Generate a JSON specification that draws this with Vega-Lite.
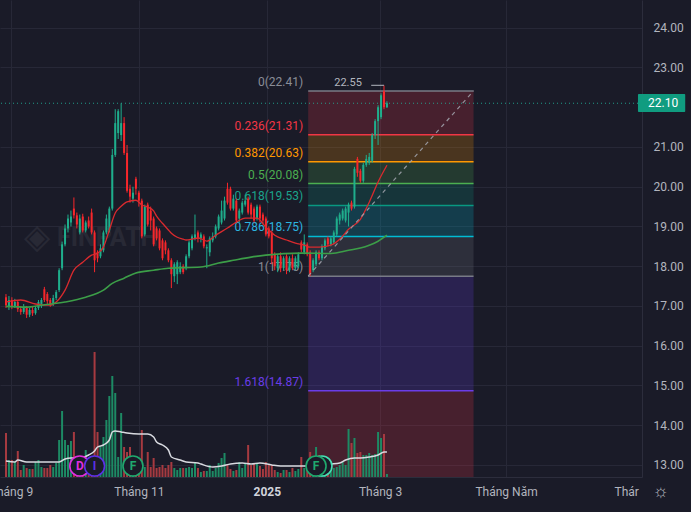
{
  "$schema": "https://vega.github.io/schema/vega-lite/v6.json",
  "description": "Candlestick chart with Fibonacci retracement, moving averages and volume",
  "width": 642,
  "height": 477,
  "autosize": {"type": "none"},
  "padding": {"left": 0, "top": 0, "right": 49, "bottom": 35},
  "background": "#1a1b28",
  "config": {
    "view": {"stroke": null},
    "font": "Roboto"
  },
  "datasets": {
    "candles": [
      {"i":0,"o":17.22,"h":17.30,"l":16.95,"c":17.02,"v":1760},
      {"i":1,"o":16.98,"h":17.25,"l":16.90,"c":17.15,"v":680},
      {"i":2,"o":17.15,"h":17.22,"l":16.92,"c":17.00,"v":680},
      {"i":3,"o":17.00,"h":17.18,"l":16.95,"c":17.10,"v":600},
      {"i":4,"o":17.10,"h":17.15,"l":16.85,"c":16.92,"v":1040},
      {"i":5,"o":16.92,"h":17.00,"l":16.78,"c":16.85,"v":280},
      {"i":6,"o":16.85,"h":17.05,"l":16.80,"c":16.98,"v":480},
      {"i":7,"o":16.98,"h":17.00,"l":16.70,"c":16.78,"v":360},
      {"i":8,"o":16.78,"h":16.95,"l":16.72,"c":16.90,"v":320},
      {"i":9,"o":16.90,"h":16.98,"l":16.75,"c":16.82,"v":320},
      {"i":10,"o":16.82,"h":17.00,"l":16.78,"c":16.95,"v":600},
      {"i":11,"o":16.95,"h":17.15,"l":16.90,"c":17.10,"v":680},
      {"i":12,"o":17.05,"h":17.20,"l":16.95,"c":17.15,"v":400},
      {"i":13,"o":17.42,"h":17.48,"l":17.10,"c":17.15,"v":360},
      {"i":14,"o":17.30,"h":17.35,"l":17.05,"c":17.12,"v":360},
      {"i":15,"o":17.15,"h":17.20,"l":16.98,"c":17.05,"v":480},
      {"i":16,"o":17.05,"h":17.28,"l":17.00,"c":17.20,"v":400},
      {"i":17,"o":17.20,"h":17.40,"l":17.15,"c":17.35,"v":560},
      {"i":18,"o":17.40,"h":17.95,"l":17.35,"c":17.90,"v":1480},
      {"i":19,"o":17.95,"h":18.62,"l":17.90,"c":18.55,"v":2640},
      {"i":20,"o":18.55,"h":19.05,"l":18.50,"c":18.95,"v":1480},
      {"i":21,"o":18.95,"h":19.30,"l":18.85,"c":19.20,"v":1280},
      {"i":22,"o":19.10,"h":19.40,"l":19.00,"c":19.25,"v":1440},
      {"i":23,"o":19.45,"h":19.73,"l":19.20,"c":19.28,"v":1800},
      {"i":24,"o":19.28,"h":19.35,"l":18.95,"c":19.05,"v":680},
      {"i":25,"o":18.85,"h":19.30,"l":18.80,"c":19.20,"v":800},
      {"i":26,"o":19.25,"h":19.32,"l":18.85,"c":18.90,"v":720},
      {"i":27,"o":18.90,"h":19.15,"l":18.85,"c":19.10,"v":1080},
      {"i":28,"o":19.15,"h":19.25,"l":18.95,"c":19.00,"v":600},
      {"i":29,"o":19.35,"h":19.45,"l":18.80,"c":18.85,"v":560},
      {"i":30,"o":18.85,"h":18.90,"l":17.85,"c":18.15,"v":5000},
      {"i":31,"o":18.35,"h":18.40,"l":18.10,"c":18.20,"v":1800},
      {"i":32,"o":18.25,"h":18.55,"l":18.20,"c":18.45,"v":1200},
      {"i":33,"o":18.40,"h":18.90,"l":18.35,"c":18.85,"v":1600},
      {"i":34,"o":18.85,"h":19.30,"l":18.80,"c":19.20,"v":2280},
      {"i":35,"o":18.90,"h":19.50,"l":18.85,"c":19.45,"v":3240},
      {"i":36,"o":19.45,"h":20.95,"l":19.40,"c":20.80,"v":4040},
      {"i":37,"o":20.80,"h":21.95,"l":20.75,"c":21.60,"v":3360},
      {"i":38,"o":21.35,"h":21.95,"l":21.20,"c":21.90,"v":800},
      {"i":39,"o":21.30,"h":22.10,"l":21.15,"c":21.60,"v":2560},
      {"i":40,"o":21.60,"h":21.75,"l":20.80,"c":20.85,"v":1200},
      {"i":41,"o":20.85,"h":21.05,"l":19.85,"c":19.90,"v":1000},
      {"i":42,"o":19.95,"h":20.05,"l":19.60,"c":19.75,"v":1200},
      {"i":43,"o":19.70,"h":20.00,"l":19.60,"c":19.85,"v":600},
      {"i":44,"o":20.20,"h":20.25,"l":19.80,"c":19.95,"v":480},
      {"i":45,"o":19.85,"h":19.90,"l":19.50,"c":19.65,"v":400},
      {"i":46,"o":19.65,"h":19.70,"l":18.70,"c":18.75,"v":1880},
      {"i":47,"o":18.80,"h":19.55,"l":18.75,"c":19.50,"v":400},
      {"i":48,"o":19.55,"h":19.60,"l":19.00,"c":19.05,"v":1000},
      {"i":49,"o":19.40,"h":19.50,"l":18.90,"c":19.15,"v":400},
      {"i":50,"o":19.20,"h":19.25,"l":18.50,"c":18.55,"v":760},
      {"i":51,"o":18.95,"h":19.00,"l":18.65,"c":18.70,"v":360},
      {"i":52,"o":18.90,"h":18.95,"l":18.40,"c":18.45,"v":400},
      {"i":53,"o":18.65,"h":18.70,"l":18.15,"c":18.20,"v":480},
      {"i":54,"o":18.60,"h":18.65,"l":18.30,"c":18.40,"v":360},
      {"i":55,"o":18.40,"h":18.45,"l":18.10,"c":18.15,"v":480},
      {"i":56,"o":18.15,"h":18.20,"l":17.45,"c":17.80,"v":600},
      {"i":57,"o":17.75,"h":18.10,"l":17.60,"c":18.05,"v":360},
      {"i":58,"o":17.80,"h":18.15,"l":17.55,"c":18.10,"v":280},
      {"i":59,"o":17.85,"h":18.10,"l":17.80,"c":18.00,"v":360},
      {"i":60,"o":18.00,"h":18.05,"l":17.80,"c":17.85,"v":360},
      {"i":61,"o":17.95,"h":18.30,"l":17.90,"c":18.25,"v":360},
      {"i":62,"o":18.25,"h":18.65,"l":18.20,"c":18.60,"v":400},
      {"i":63,"o":18.45,"h":18.80,"l":18.40,"c":18.75,"v":360},
      {"i":64,"o":18.70,"h":19.30,"l":18.65,"c":18.80,"v":600},
      {"i":65,"o":18.85,"h":18.90,"l":18.60,"c":18.70,"v":360},
      {"i":66,"o":18.70,"h":18.85,"l":18.60,"c":18.80,"v":200},
      {"i":67,"o":18.75,"h":18.80,"l":18.45,"c":18.50,"v":240},
      {"i":68,"o":18.45,"h":18.55,"l":17.95,"c":18.48,"v":240},
      {"i":69,"o":18.35,"h":18.75,"l":18.25,"c":18.70,"v":480},
      {"i":70,"o":18.65,"h":18.85,"l":18.60,"c":18.75,"v":240},
      {"i":71,"o":18.75,"h":19.05,"l":18.70,"c":19.00,"v":360},
      {"i":72,"o":18.95,"h":19.30,"l":18.90,"c":19.25,"v":560},
      {"i":73,"o":19.10,"h":19.65,"l":19.05,"c":19.40,"v":760},
      {"i":74,"o":19.20,"h":19.75,"l":19.15,"c":19.65,"v":960},
      {"i":75,"o":19.95,"h":20.10,"l":19.55,"c":19.60,"v":480},
      {"i":76,"o":19.95,"h":20.00,"l":19.40,"c":19.45,"v":320},
      {"i":77,"o":19.45,"h":19.80,"l":19.40,"c":19.70,"v":240},
      {"i":78,"o":19.65,"h":19.70,"l":19.10,"c":19.15,"v":280},
      {"i":79,"o":19.20,"h":19.45,"l":19.10,"c":19.40,"v":600},
      {"i":80,"o":19.35,"h":19.65,"l":19.30,"c":19.60,"v":360},
      {"i":81,"o":19.55,"h":19.80,"l":19.50,"c":19.65,"v":560},
      {"i":82,"o":19.70,"h":19.75,"l":19.30,"c":19.35,"v":1280},
      {"i":83,"o":19.55,"h":19.60,"l":19.20,"c":19.30,"v":480},
      {"i":84,"o":19.45,"h":19.50,"l":19.10,"c":19.15,"v":520},
      {"i":85,"o":19.20,"h":19.55,"l":19.15,"c":19.50,"v":520},
      {"i":86,"o":19.50,"h":19.55,"l":19.10,"c":19.20,"v":440},
      {"i":87,"o":19.30,"h":19.35,"l":19.05,"c":19.15,"v":320},
      {"i":88,"o":19.20,"h":19.25,"l":18.75,"c":18.80,"v":600},
      {"i":89,"o":18.95,"h":19.00,"l":18.70,"c":18.75,"v":480},
      {"i":90,"o":18.85,"h":18.90,"l":18.05,"c":18.20,"v":480},
      {"i":91,"o":18.30,"h":18.35,"l":17.90,"c":18.00,"v":280},
      {"i":92,"o":17.95,"h":18.30,"l":17.85,"c":18.25,"v":200},
      {"i":93,"o":18.25,"h":18.35,"l":17.85,"c":17.95,"v":160},
      {"i":94,"o":17.95,"h":18.25,"l":17.90,"c":18.20,"v":280},
      {"i":95,"o":18.25,"h":18.30,"l":17.80,"c":17.90,"v":280},
      {"i":96,"o":17.90,"h":18.25,"l":17.85,"c":18.20,"v":200},
      {"i":97,"o":18.20,"h":18.30,"l":17.90,"c":17.95,"v":360},
      {"i":98,"o":17.95,"h":18.25,"l":17.90,"c":18.20,"v":240},
      {"i":99,"o":18.00,"h":18.35,"l":17.95,"c":18.30,"v":320},
      {"i":100,"o":18.60,"h":18.65,"l":18.35,"c":18.42,"v":800},
      {"i":101,"o":18.35,"h":18.80,"l":18.30,"c":18.60,"v":360},
      {"i":102,"o":18.55,"h":18.60,"l":18.25,"c":18.30,"v":400},
      {"i":103,"o":18.35,"h":18.40,"l":17.75,"c":17.80,"v":1000},
      {"i":104,"o":17.90,"h":18.20,"l":17.85,"c":18.15,"v":600},
      {"i":105,"o":18.05,"h":18.40,"l":18.00,"c":18.35,"v":1200},
      {"i":106,"o":18.35,"h":18.40,"l":18.15,"c":18.20,"v":880},
      {"i":107,"o":18.20,"h":18.55,"l":18.15,"c":18.50,"v":720},
      {"i":108,"o":18.45,"h":18.70,"l":18.40,"c":18.65,"v":600},
      {"i":109,"o":18.70,"h":18.75,"l":18.50,"c":18.55,"v":400},
      {"i":110,"o":18.55,"h":18.75,"l":18.50,"c":18.70,"v":480},
      {"i":111,"o":18.60,"h":18.90,"l":18.55,"c":18.85,"v":360},
      {"i":112,"o":18.80,"h":19.25,"l":18.75,"c":19.20,"v":400},
      {"i":113,"o":19.15,"h":19.35,"l":19.05,"c":19.30,"v":480},
      {"i":114,"o":19.20,"h":19.45,"l":19.15,"c":19.40,"v":600},
      {"i":115,"o":19.15,"h":19.50,"l":19.10,"c":19.45,"v":480},
      {"i":116,"o":19.35,"h":19.60,"l":19.00,"c":19.55,"v":1920},
      {"i":117,"o":19.60,"h":19.65,"l":19.40,"c":19.45,"v":1360},
      {"i":118,"o":19.50,"h":20.50,"l":19.45,"c":20.45,"v":1560},
      {"i":119,"o":20.70,"h":20.75,"l":20.25,"c":20.35,"v":960},
      {"i":120,"o":20.40,"h":20.45,"l":20.10,"c":20.15,"v":1000},
      {"i":121,"o":20.15,"h":20.60,"l":20.10,"c":20.55,"v":880},
      {"i":122,"o":20.55,"h":20.80,"l":20.50,"c":20.70,"v":880},
      {"i":123,"o":20.60,"h":20.85,"l":20.55,"c":20.75,"v":960},
      {"i":124,"o":20.65,"h":21.35,"l":20.60,"c":21.30,"v":880},
      {"i":125,"o":21.30,"h":21.70,"l":21.20,"c":21.65,"v":920},
      {"i":126,"o":21.65,"h":22.05,"l":21.05,"c":22.00,"v":1800},
      {"i":127,"o":21.75,"h":22.35,"l":21.70,"c":22.30,"v":1560},
      {"i":128,"o":22.40,"h":22.55,"l":21.95,"c":22.00,"v":1720},
      {"i":129,"o":22.00,"h":22.15,"l":21.98,"c":22.10,"v":120}
    ],
    "ma_fast": [
      {"i":0,"v":17.10},{"i":5,"v":17.15},{"i":10,"v":17.05},{"i":15,"v":17.02},{"i":17,"v":17.10},
      {"i":20,"v":17.40},{"i":23,"v":17.90},{"i":26,"v":18.10},{"i":29,"v":18.28},{"i":31,"v":18.33},
      {"i":33,"v":18.48},{"i":35,"v":18.91},{"i":37,"v":19.34},{"i":39,"v":19.51},{"i":41,"v":19.62},
      {"i":44,"v":19.66},{"i":46,"v":19.54},{"i":48,"v":19.49},{"i":50,"v":19.39},{"i":51,"v":19.26},
      {"i":53,"v":19.08},{"i":55,"v":18.91},{"i":56,"v":18.83},{"i":58,"v":18.73},{"i":60,"v":18.68},
      {"i":61,"v":18.66},{"i":63,"v":18.68},{"i":65,"v":18.71},{"i":67,"v":18.66},{"i":68,"v":18.63},
      {"i":71,"v":18.78},{"i":75,"v":18.96},{"i":78,"v":19.11},{"i":81,"v":19.21},{"i":85,"v":19.21},
      {"i":88,"v":18.98},{"i":91,"v":18.78},{"i":95,"v":18.66},{"i":98,"v":18.58},{"i":101,"v":18.53},
      {"i":103,"v":18.48},{"i":106,"v":18.48},{"i":110,"v":18.53},{"i":113,"v":18.68},{"i":116,"v":18.93},
      {"i":120,"v":19.18},{"i":123,"v":19.61},{"i":126,"v":20.12},{"i":129,"v":20.54}
    ],
    "ma_slow": [
      {"i":0,"v":16.99},{"i":7,"v":16.97},{"i":12,"v":17.02},{"i":20,"v":17.10},{"i":27,"v":17.22},
      {"i":33,"v":17.40},{"i":36,"v":17.57},{"i":40,"v":17.70},{"i":44,"v":17.83},{"i":50,"v":17.90},
      {"i":55,"v":17.95},{"i":66,"v":17.98},{"i":72,"v":18.08},{"i":77,"v":18.15},{"i":83,"v":18.23},
      {"i":88,"v":18.28},{"i":100,"v":18.33},{"i":110,"v":18.32},{"i":116,"v":18.40},{"i":120,"v":18.46},
      {"i":123,"v":18.53},{"i":126,"v":18.63},{"i":129,"v":18.78}
    ],
    "vol_ma": [
      {"i":0,"v":640},{"i":3,"v":600},{"i":4,"v":680},{"i":7,"v":600},{"i":12,"v":600},{"i":18,"v":600},
      {"i":20,"v":720},{"i":22,"v":760},{"i":25,"v":760},{"i":28,"v":880},{"i":30,"v":1040},{"i":31,"v":1200},
      {"i":33,"v":1280},{"i":35,"v":1480},{"i":36,"v":1800},{"i":37,"v":1840},{"i":39,"v":1800},{"i":41,"v":1760},
      {"i":45,"v":1720},{"i":48,"v":1720},{"i":50,"v":1600},{"i":51,"v":1400},{"i":53,"v":1280},{"i":55,"v":1080},
      {"i":56,"v":800},{"i":59,"v":680},{"i":61,"v":600},{"i":65,"v":560},{"i":66,"v":520},{"i":70,"v":400},
      {"i":73,"v":440},{"i":76,"v":520},{"i":80,"v":560},{"i":83,"v":520},{"i":86,"v":560},{"i":90,"v":480},
      {"i":93,"v":440},{"i":100,"v":440},{"i":103,"v":440},{"i":110,"v":520},{"i":113,"v":560},{"i":115,"v":680},
      {"i":118,"v":760},{"i":120,"v":760},{"i":123,"v":800},{"i":126,"v":880},{"i":128,"v":1000},{"i":129,"v":1000}
    ],
    "fib": [
      {"r":"0","label":"0(22.41)","p":22.41},
      {"r":"0.236","label":"0.236(21.31)","p":21.31,"p0":22.41},
      {"r":"0.382","label":"0.382(20.63)","p":20.63,"p0":21.31},
      {"r":"0.5","label":"0.5(20.08)","p":20.08,"p0":20.63},
      {"r":"0.618","label":"0.618(19.53)","p":19.53,"p0":20.08},
      {"r":"0.786","label":"0.786(18.75)","p":18.75,"p0":19.53},
      {"r":"1","label":"1(17.75)","p":17.75,"p0":18.75},
      {"r":"1.618","label":"1.618(14.87)","p":14.87,"p0":17.75},
      {"r":"2.618","label":"","p":10.21,"p0":14.87}
    ],
    "events": [
      {"i":25,"ev":"D","kind":"D"},
      {"i":30,"ev":"I","kind":"I"},
      {"i":43,"ev":"F","kind":"F"},
      {"i":107,"ev":"F","kind":"F2"},
      {"i":105,"ev":"F","kind":"F"}
    ]
  },
  "resolve": {"scale": {"y": "independent", "color": "independent"}},
  "layer": [
    {
      "data": {"name": "candles"},
      "mark": {"type": "bar", "orient": "vertical", "size": 2},
      "encoding": {
        "x": {
          "field": "i",
          "type": "quantitative",
          "scale": {"domain": [-0.33, 213.67], "nice": false, "zero": false},
          "axis": {
            "title": null,
            "values": [1.7, 45, 88.33, 126.67, 169.33, 210],
            "labelExpr": "datum.value < 10 ? 'Tháng 9' : datum.value < 60 ? 'Tháng 11' : datum.value < 100 ? '2025' : datum.value < 150 ? 'Tháng 3' : datum.value < 190 ? 'Tháng Năm' : 'Thár'",
            "grid": true,
            "gridColor": "#272837",
            "gridOpacity": {"condition": {"test": "datum.value > 200", "value": 0}, "value": 1},
            "ticks": false,
            "domain": true,
            "domainColor": "#2c2d3c",
            "labelColor": {"condition": {"test": "datum.value > 80 && datum.value < 100", "value": "#d1d4dc"}, "value": "#b2b5be"},
            "labelFontWeight": {"condition": {"test": "datum.value > 80 && datum.value < 100", "value": "bold"}, "value": "normal"},
            "labelFontSize": 12,
            "labelPadding": 9,
            "labelFlush": false,
            "labelOverlap": false
          }
        },
        "y": {"field": "v", "type": "quantitative", "scale": {"domain": [0, 19080], "nice": false}, "axis": null},
        "opacity": {"value": 0}
      }
    },
    {
      "data": {"values": [{"t": "FINPATH"}]},
      "mark": {"type": "text", "fontSize": 25, "fontWeight": "bold", "color": "#ffffff", "opacity": 0.06, "align": "left", "baseline": "middle"},
      "encoding": {
        "x": {"datum": 17.3, "scale": {"domain": [-0.33, 213.67], "nice": false, "zero": false}, "axis": {"title": null}},
        "y": {"datum": 18.71, "scale": {"domain": [12.698, 24.697], "nice": false, "zero": false}, "axis": null},
        "text": {"field": "t"}
      }
    },
    {
      "data": {"values": [{"t": "◈"}]},
      "mark": {"type": "text", "fontSize": 34, "color": "#ffffff", "opacity": 0.06, "align": "center", "baseline": "middle"},
      "encoding": {
        "x": {"datum": 10.4, "scale": {"domain": [-0.33, 213.67], "nice": false, "zero": false}, "axis": {"title": null}},
        "y": {"datum": 18.71, "scale": {"domain": [12.698, 24.697], "nice": false, "zero": false}, "axis": null},
        "text": {"field": "t"}
      }
    },
    {
      "data": {"name": "fib"},
      "transform": [{"filter": "isValid(datum.p0)"}],
      "mark": {"type": "rect", "fillOpacity": 0.21, "clip": true},
      "encoding": {
        "x": {"datum": 102.33, "scale": {"domain": [-0.33, 213.67], "nice": false, "zero": false}, "axis": {"title": null}},
        "x2": {"datum": 158.33},
        "y": {"field": "p", "type": "quantitative", "scale": {"domain": [12.698, 24.697], "nice": false, "zero": false}, "axis": null},
        "y2": {"field": "p0"},
        "color": {
          "field": "r", "type": "nominal", "legend": null,
          "scale": {"domain": ["0","0.236","0.382","0.5","0.618","0.786","1","1.618","2.618"],
                    "range": ["#787b86","#f23645","#ff9800","#4caf50","#089981","#00bcd4","#787b86","#6a3de8","#f23645"]}
        }
      }
    },
    {
      "data": {"name": "fib"},
      "transform": [{"filter": "datum.r != '2.618'"}],
      "mark": {"type": "rule", "strokeWidth": 1.5},
      "encoding": {
        "x": {"datum": 102.33, "scale": {"domain": [-0.33, 213.67], "nice": false, "zero": false}, "axis": {"title": null}},
        "x2": {"datum": 158.33},
        "y": {"field": "p", "type": "quantitative", "scale": {"domain": [12.698, 24.697], "nice": false, "zero": false}, "axis": null},
        "color": {
          "field": "r", "type": "nominal", "legend": null,
          "scale": {"domain": ["0","0.236","0.382","0.5","0.618","0.786","1","1.618","2.618"],
                    "range": ["#787b86","#f23645","#ff9800","#4caf50","#089981","#00bcd4","#787b86","#6a3de8","#f23645"]}
        }
      }
    },
    {
      "data": {"name": "fib"},
      "transform": [{"filter": "datum.r != '2.618'"}],
      "mark": {"type": "text", "align": "right", "baseline": "alphabetic", "dx": -5, "dy": -5, "fontSize": 12},
      "encoding": {
        "x": {"datum": 102.33, "scale": {"domain": [-0.33, 213.67], "nice": false, "zero": false}, "axis": {"title": null}},
        "y": {"field": "p", "type": "quantitative", "scale": {"domain": [12.698, 24.697], "nice": false, "zero": false}, "axis": null},
        "text": {"field": "label"},
        "color": {
          "field": "r", "type": "nominal", "legend": null,
          "scale": {"domain": ["0","0.236","0.382","0.5","0.618","0.786","1","1.618","2.618"],
                    "range": ["#8a8d97","#f23645","#ff9800","#4caf50","#1aa38c","#2cb5e0","#8a8d97","#6a3de8","#f23645"]}
        }
      }
    },
    {
      "data": {"name": "candles"},
      "mark": {"type": "bar", "orient": "vertical", "size": 2},
      "encoding": {
        "x": {"field": "i", "type": "quantitative", "scale": {"domain": [-0.33, 213.67], "nice": false, "zero": false}, "axis": {"title": null}},
        "y": {"field": "v", "type": "quantitative", "scale": {"domain": [0, 19080], "nice": false}, "axis": null},
        "color": {"condition": {"test": "datum.c >= datum.o", "value": "#1d8a64"}, "value": "#a63a40"}
      }
    },
    {
      "data": {"name": "vol_ma"},
      "mark": {"type": "line", "color": "#d8dae0", "strokeWidth": 1.5, "interpolate": "monotone"},
      "encoding": {
        "x": {"field": "i", "type": "quantitative", "scale": {"domain": [-0.33, 213.67], "nice": false, "zero": false}, "axis": {"title": null}},
        "y": {"field": "v", "type": "quantitative", "scale": {"domain": [0, 19080], "nice": false}, "axis": null}
      }
    },
    {
      "data": {"name": "events"},
      "mark": {"type": "point", "shape": "circle", "filled": false, "fill": "#1a1b28", "fillOpacity": 1, "size": 400, "strokeWidth": 1.6, "opacity": 1},
      "encoding": {
        "x": {"field": "i", "type": "quantitative", "scale": {"domain": [-0.33, 213.67], "nice": false, "zero": false}, "axis": {"title": null}},
        "y": {"datum": 440, "scale": {"domain": [0, 19080], "nice": false}, "axis": null},
        "color": {
          "field": "kind", "type": "nominal", "legend": null,
          "scale": {"domain": ["D","I","F","F2"], "range": ["#e02ee0","#5a30e6","#1faa6e","#46e0b4"]}
        }
      }
    },
    {
      "data": {"name": "events"},
      "transform": [{"filter": "datum.kind != 'F2'"}],
      "mark": {"type": "text", "fontSize": 12, "fontWeight": "bold", "align": "center", "baseline": "middle"},
      "encoding": {
        "x": {"field": "i", "type": "quantitative", "scale": {"domain": [-0.33, 213.67], "nice": false, "zero": false}, "axis": {"title": null}},
        "y": {"datum": 440, "scale": {"domain": [0, 19080], "nice": false}, "axis": null},
        "text": {"field": "ev"},
        "color": {
          "field": "kind", "type": "nominal", "legend": null,
          "scale": {"domain": ["D","I","F","F2"], "range": ["#e02ee0","#5a30e6","#1faa6e","#46e0b4"]}
        }
      }
    },
    {
      "data": {"name": "candles"},
      "mark": {"type": "rule", "strokeWidth": 1},
      "encoding": {
        "x": {"field": "i", "type": "quantitative", "scale": {"domain": [-0.33, 213.67], "nice": false, "zero": false}, "axis": {"title": null}},
        "y": {
          "field": "l", "type": "quantitative",
          "scale": {"domain": [12.698, 24.697], "nice": false, "zero": false},
          "axis": {
            "orient": "right",
            "title": null,
            "values": [13, 14, 15, 16, 17, 18, 19, 20, 21, 23, 24],
            "format": ".2f",
            "grid": true,
            "gridColor": "#272837",
            "ticks": false,
            "domain": true,
            "domainColor": "#2c2d3c",
            "labelColor": "#b2b5be",
            "labelFontSize": 12,
            "labelPadding": 11
          }
        },
        "y2": {"field": "h"},
        "color": {"condition": {"test": "datum.c >= datum.o", "value": "#1fae8c"}, "value": "#f7272b"}
      }
    },
    {
      "data": {"name": "candles"},
      "mark": {"type": "bar", "size": 2},
      "encoding": {
        "x": {"field": "i", "type": "quantitative", "scale": {"domain": [-0.33, 213.67], "nice": false, "zero": false}, "axis": {"title": null}},
        "y": {"field": "o", "type": "quantitative", "scale": {"domain": [12.698, 24.697], "nice": false, "zero": false}, "axis": null},
        "y2": {"field": "c"},
        "color": {"condition": {"test": "datum.c >= datum.o", "value": "#1fae8c"}, "value": "#f7272b"}
      }
    },
    {
      "data": {"name": "ma_fast"},
      "mark": {"type": "line", "color": "#d92a2e", "strokeWidth": 1.3, "interpolate": "monotone"},
      "encoding": {
        "x": {"field": "i", "type": "quantitative", "scale": {"domain": [-0.33, 213.67], "nice": false, "zero": false}, "axis": {"title": null}},
        "y": {"field": "v", "type": "quantitative", "scale": {"domain": [12.698, 24.697], "nice": false, "zero": false}, "axis": null}
      }
    },
    {
      "data": {"name": "ma_slow"},
      "mark": {"type": "line", "color": "#3c9e48", "strokeWidth": 1.6, "interpolate": "monotone"},
      "encoding": {
        "x": {"field": "i", "type": "quantitative", "scale": {"domain": [-0.33, 213.67], "nice": false, "zero": false}, "axis": {"title": null}},
        "y": {"field": "v", "type": "quantitative", "scale": {"domain": [12.698, 24.697], "nice": false, "zero": false}, "axis": null}
      }
    },
    {
      "data": {"values": [{"p": 22.10}]},
      "mark": {"type": "rule", "color": "#22ab94", "strokeDash": [1, 3], "strokeWidth": 1, "opacity": 0.9},
      "encoding": {
        "y": {"field": "p", "type": "quantitative", "scale": {"domain": [12.698, 24.697], "nice": false, "zero": false}, "axis": null}
      }
    },
    {
      "data": {"values": [{"p0": 17.75, "p1": 22.41}]},
      "mark": {"type": "rule", "color": "#a3a6af", "strokeDash": [4, 4], "strokeWidth": 1.2, "opacity": 0.85},
      "encoding": {
        "x": {"datum": 102.33, "scale": {"domain": [-0.33, 213.67], "nice": false, "zero": false}, "axis": {"title": null}},
        "x2": {"datum": 158.33},
        "y": {"field": "p0", "type": "quantitative", "scale": {"domain": [12.698, 24.697], "nice": false, "zero": false}, "axis": null},
        "y2": {"field": "p1"}
      }
    },
    {
      "data": {"values": [{"p": 22.55}]},
      "mark": {"type": "rule", "color": "#9a9da6", "strokeWidth": 1.2},
      "encoding": {
        "x": {"datum": 123.67, "scale": {"domain": [-0.33, 213.67], "nice": false, "zero": false}, "axis": {"title": null}},
        "x2": {"datum": 128},
        "y": {"field": "p", "type": "quantitative", "scale": {"domain": [12.698, 24.697], "nice": false, "zero": false}, "axis": null}
      }
    },
    {
      "data": {"values": [{"p": 22.55}]},
      "mark": {"type": "text", "color": "#b2b5be", "fontSize": 11, "align": "right", "baseline": "middle", "dy": -2},
      "encoding": {
        "x": {"datum": 120.5, "scale": {"domain": [-0.33, 213.67], "nice": false, "zero": false}, "axis": {"title": null}},
        "y": {"field": "p", "type": "quantitative", "scale": {"domain": [12.698, 24.697], "nice": false, "zero": false}, "axis": null},
        "text": {"field": "p", "format": ".2f"}
      }
    },
    {
      "data": {"values": [{"p": 22.10}]},
      "mark": {"type": "rect", "color": "#109c80", "cornerRadius": 1},
      "encoding": {
        "x": {"datum": 214, "scale": {"domain": [-0.33, 213.67], "nice": false, "zero": false}, "axis": {"title": null}},
        "x2": {"datum": 230},
        "y": {"datum": 22.33, "scale": {"domain": [12.698, 24.697], "nice": false, "zero": false}, "axis": null},
        "y2": {"datum": 21.88}
      }
    },
    {
      "data": {"values": [{"p": 22.10}]},
      "mark": {"type": "text", "color": "#ffffff", "fontSize": 12, "align": "left", "baseline": "middle"},
      "encoding": {
        "x": {"datum": 217.4, "scale": {"domain": [-0.33, 213.67], "nice": false, "zero": false}, "axis": {"title": null}},
        "y": {"field": "p", "type": "quantitative", "scale": {"domain": [12.698, 24.697], "nice": false, "zero": false}, "axis": null},
        "text": {"field": "p", "format": ".2f"}
      }
    },
    {
      "data": {"values": [{"t": "☼"}]},
      "mark": {"type": "text", "color": "#b2b5be", "fontSize": 18, "align": "center", "baseline": "middle"},
      "encoding": {
        "x": {"datum": 221.67, "scale": {"domain": [-0.33, 213.67], "nice": false, "zero": false}, "axis": {"title": null}},
        "y": {"datum": 12.31, "scale": {"domain": [12.698, 24.697], "nice": false, "zero": false}, "axis": null},
        "text": {"field": "t"}
      }
    }
  ]
}
